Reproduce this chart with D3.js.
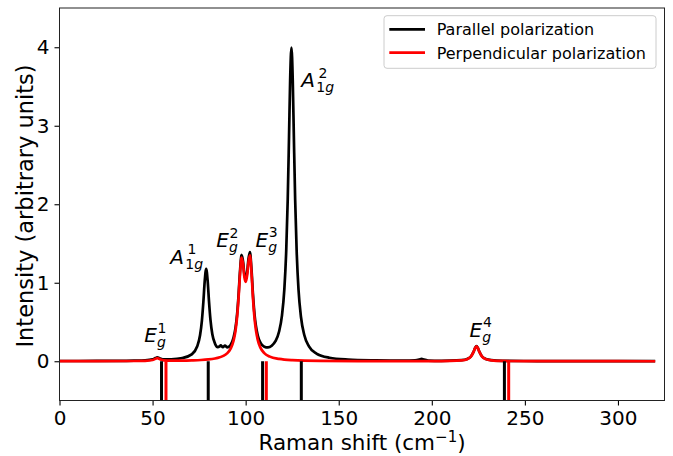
<!DOCTYPE html>
<html>
<head>
<meta charset="utf-8">
<script src="https://cdnjs.cloudflare.com/ajax/libs/d3/7.8.5/d3.min.js"></script>
<style>
body{margin:0;background:#fff;}
svg{font-family:"DejaVu Sans",sans-serif;}
</style>
</head>
<body>
<div id="ramanChart"></div>
<script>
// parallel polarization spectrum (black)
let parShift = [0, 20, 40, 46, 50, 51.5, 52.5, 54, 56, 60, 66, 71, 74, 75.5, 76.5,
	77.3, 78, 78.8, 79.6, 80.3, 81.1, 82.1, 83.5, 85, 86, 86.6, 87.75, 88.9, 90, 91,
	92, 93.5, 94.5, 95.5, 96.1, 97, 97.8, 98.6, 99.3, 100.05, 100.8, 101.5, 102.3, 103.1, 104,
	104.8, 105.5, 106.5, 108, 110, 112, 114, 116, 118, 119.5, 120.8, 121.8, 122.6, 123.3, 123.9,
	124.6, 125.3, 125.9, 126.6, 127.4, 128.4, 129.7, 131.5, 134, 138, 145, 155, 170, 185, 191,
	193.3, 194.5, 195.7, 198, 205, 210, 216, 219, 221, 222.5, 223.3, 224, 224.7, 225.5, 227,
	229, 232, 238, 250, 280, 320]
let parIntensity = [0.003, 0.004, 0.009, 0.013, 0.024, 0.040, 0.049, 0.036, 0.024, 0.025, 0.041, 0.088, 0.191, 0.331, 0.519,
	0.761, 1.017, 1.177, 1.020, 0.766, 0.527, 0.343, 0.227, 0.180, 0.189, 0.201, 0.179, 0.200, 0.178, 0.185,
	0.211, 0.302, 0.417, 0.623, 0.812, 1.156, 1.356, 1.271, 1.112, 1.048, 1.134, 1.300, 1.392, 1.184, 0.826,
	0.589, 0.452, 0.328, 0.235, 0.186, 0.176, 0.197, 0.255, 0.383, 0.581, 0.922, 1.411, 2.06, 2.859, 3.583,
	3.997, 3.58, 2.855, 2.054, 1.404, 0.911, 0.567, 0.334, 0.190, 0.098, 0.045, 0.022, 0.011, 0.007, 0.010,
	0.021, 0.031, 0.021, 0.009, 0.006, 0.007, 0.014, 0.029, 0.061, 0.124, 0.171, 0.192, 0.171, 0.124, 0.061,
	0.029, 0.014, 0.006, 0.003, 0.001, 0.001]
// perpendicular polarization spectrum (red)
let perpShift = [0, 20, 40, 46, 50, 51.5, 52.5, 54, 56, 60, 66, 71, 76, 80, 83.5,
	85, 88, 90, 92, 93.5, 94.5, 95.5, 96.1, 97, 97.8, 98.6, 99.3, 100.05, 100.8, 101.5,
	102.3, 103.1, 104, 104.8, 105.5, 106.5, 108, 110, 113, 118, 125, 140, 170, 200, 210,
	216, 219, 221, 222.5, 223.3, 224, 224.7, 225.5, 227, 229, 232, 238, 250, 280, 320]
let perpIntensity = [0.001, 0.0015, 0.0033, 0.0057, 0.0156, 0.0306, 0.039, 0.0249, 0.012, 0.0077, 0.0086, 0.0114, 0.016, 0.0235, 0.035,
	0.0426, 0.068, 0.100, 0.164, 0.261, 0.380, 0.587, 0.776, 1.12, 1.32, 1.235, 1.075, 1.01, 1.095, 1.26,
	1.35, 1.14, 0.78, 0.54, 0.40, 0.272, 0.170, 0.104, 0.059, 0.030, 0.015, 0.006, 0.0021, 0.0022, 0.0046,
	0.012, 0.027, 0.059, 0.122, 0.169, 0.19, 0.169, 0.122, 0.059, 0.027, 0.012, 0.0043, 0.0014, 0.0004, 0.0003]
// computed mode positions, drawn as sticks below zero
let parSticks = [54.8, 79.9, 109.1, 129.9, 239.0]
let perpSticks = [57.2, 111.1, 241.3]
// mode labels
let labelBase = ['E', 'A', 'E', 'E', 'A', 'E']
let labelSub = ['g', '1g', 'g', 'g', '1g', 'g']
let labelSup = ['1', '1', '2', '3', '2', '4']
let labelShift = [45.5, 59.5, 84.2, 105.3, 129.9, 220.3]
let labelIntensity = [0.24, 1.24, 1.45, 1.457, 3.49, 0.31]
let xTicks = [0, 50, 100, 150, 200, 250, 300]
let yTicks = [0, 1, 2, 3, 4]
let legendNames = ['Parallel polarization', 'Perpendicular polarization']
let legendColors = ['black', 'red']

let width = 673, height = 456
let plotLeft = 59.5, plotRight = 664.5, plotTop = 8, plotBottom = 400.5

let svg = d3.select('#ramanChart').append('svg')
	.attr('width', width)
	.attr('height', height)

let xscale = d3.scaleLinear().domain([0, 325]).range([plotLeft, plotRight])
let yscale = d3.scaleLinear().domain([-0.5, 4.5]).range([plotBottom, plotTop])

svg.append('clipPath').attr('id', 'plotClip')
	.append('rect')
	.attr('x', plotLeft).attr('y', plotTop)
	.attr('width', plotRight - plotLeft).attr('height', plotBottom - plotTop)

// axes
let x_axis = d3.axisBottom(xscale).tickValues(xTicks).tickFormat(d3.format('d'))
	.tickSize(5).tickPadding(5).tickSizeOuter(0)
let y_axis = d3.axisLeft(yscale).tickValues(yTicks).tickFormat(d3.format('d'))
	.tickSize(5).tickPadding(5).tickSizeOuter(0)

let gx = svg.append('g').attr('transform', 'translate(0,' + plotBottom + ')').call(x_axis)
let gy = svg.append('g').attr('transform', 'translate(' + plotLeft + ',0)').call(y_axis)
;[gx, gy].forEach(function(g){
	g.select('.domain').remove()
	g.attr('font-size', 20).attr('font-family', '"DejaVu Sans", sans-serif')
	g.selectAll('.tick line').attr('stroke', '#000').attr('stroke-width', 1.1)
	g.selectAll('.tick text').attr('fill', '#000')
})

let plot = svg.append('g').attr('clip-path', 'url(#plotClip)')

let parLine = d3.line()
	.x(function(d, i){ return xscale(parShift[i]) })
	.y(function(d){ return yscale(d) })
	.curve(d3.curveMonotoneX)
let perpLine = d3.line()
	.x(function(d, i){ return xscale(perpShift[i]) })
	.y(function(d){ return yscale(d) })
	.curve(d3.curveMonotoneX)

plot.append('path')
	.datum(parIntensity)
	.attr('fill', 'none')
	.attr('stroke', 'black')
	.attr('stroke-width', 2.7)
	.attr('stroke-linejoin', 'round')
	.attr('d', parLine)
plot.append('path')
	.datum(perpIntensity)
	.attr('fill', 'none')
	.attr('stroke', 'red')
	.attr('stroke-width', 2.7)
	.attr('stroke-linejoin', 'round')
	.attr('d', perpLine)

// sticks
plot.selectAll('.parStick')
	.data(parSticks)
	.enter().append('line')
	.attr('class', 'parStick')
	.attr('x1', function(d){ return xscale(d) })
	.attr('x2', function(d){ return xscale(d) })
	.attr('y1', yscale(0))
	.attr('y2', yscale(-0.5))
	.attr('stroke', 'black')
	.attr('stroke-width', 3)
plot.selectAll('.perpStick')
	.data(perpSticks)
	.enter().append('line')
	.attr('class', 'perpStick')
	.attr('x1', function(d){ return xscale(d) })
	.attr('x2', function(d){ return xscale(d) })
	.attr('y1', yscale(0))
	.attr('y2', yscale(-0.5))
	.attr('stroke', 'red')
	.attr('stroke-width', 3)

// frame
svg.append('rect')
	.attr('x', plotLeft).attr('y', plotTop)
	.attr('width', plotRight - plotLeft).attr('height', plotBottom - plotTop)
	.attr('fill', 'none')
	.attr('stroke', '#222')
	.attr('stroke-width', 1)

// mode labels, like $E_g^1$
let supOffset = {E: 13.3, A: 17.3}
let subOffset = {E: 12.7, A: 15}
for (let i = 0; i < labelBase.length; i++){
	let lx = xscale(labelShift[i])
	let ly = yscale(labelIntensity[i])
	svg.append('text')
		.attr('x', lx).attr('y', ly)
		.attr('font-size', 20)
		.attr('font-style', 'italic')
		.text(labelBase[i])
	svg.append('text')
		.attr('x', lx + supOffset[labelBase[i]]).attr('y', ly - 9.5)
		.attr('font-size', 14)
		.text(labelSup[i])
	let sub = svg.append('text')
		.attr('x', lx + subOffset[labelBase[i]]).attr('y', ly + 5)
		.attr('font-size', 14)
	labelSub[i].split('').forEach(function(c){
		sub.append('tspan')
			.attr('font-style', /[a-z]/.test(c) ? 'italic' : 'normal')
			.text(c)
	})
}

// axis titles
let xt = svg.append('text')
	.attr('x', (plotLeft + plotRight) / 2)
	.attr('y', 450)
	.attr('text-anchor', 'middle')
	.attr('font-size', 21.5)
xt.append('tspan').text('Raman shift (cm')
xt.append('tspan').attr('font-size', 15).attr('dy', -8.5).text('\u22121')
xt.append('tspan').attr('dy', 8.5).text(')')

svg.append('text')
	.attr('transform', 'rotate(-90)')
	.attr('x', -206)
	.attr('y', 33)
	.attr('text-anchor', 'middle')
	.attr('font-size', 22.5)
	.text('Intensity (arbitrary units)')

// legend
let legend = svg.append('g')
legend.append('rect')
	.attr('x', 384).attr('y', 15.7)
	.attr('width', 272).attr('height', 52.6)
	.attr('rx', 3)
	.attr('fill', 'white')
	.attr('fill-opacity', 0.8)
	.attr('stroke', '#cccccc')
	.attr('stroke-width', 1)
legendNames.forEach(function(name, i){
	let ry = 29.3 + i * 23.4
	legend.append('line')
		.attr('x1', 389.3).attr('x2', 425)
		.attr('y1', ry).attr('y2', ry)
		.attr('stroke', legendColors[i])
		.attr('stroke-width', 2.7)
	legend.append('text')
		.attr('x', 436.7).attr('y', ry + 6)
		.attr('font-size', 16)
		.text(name)
})
</script>
</body>
</html>
